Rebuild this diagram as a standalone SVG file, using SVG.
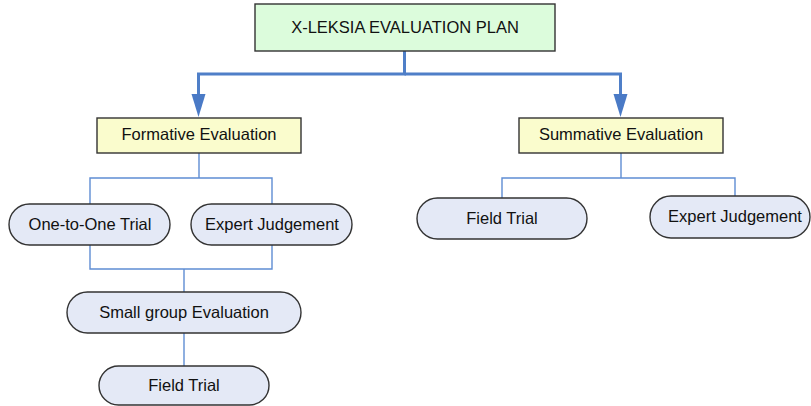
<svg xmlns="http://www.w3.org/2000/svg" width="811" height="406" viewBox="0 0 811 406">
  <defs>
    <style>
      .box { stroke: #333333; stroke-width: 1.4; }
      .root { fill: #dcfcdc; }
      .cat { fill: #fafccd; }
      .pill { fill: #e4e9f6; }
      .t { font-family: "Liberation Sans", Arial, sans-serif; font-size: 16.5px; fill: #111111; text-anchor: middle; }
      .thick { fill: none; stroke: #4f7fc8; stroke-width: 3; }
      .thin { fill: none; stroke: #5f8dd3; stroke-width: 1.4; }
    </style>
  </defs>
  <rect width="811" height="406" fill="#ffffff"/>

  <g id="connectors">
    <path class="thick" d="M404.5,51 V74 H198.5 V94"/>
    <path class="thick" d="M404.5,74 H620.5 V94"/>
    <path d="M191.5,94 H205.5 L198.5,117 Z" fill="#4a7ac6"/>
    <path d="M613.5,94 H627.5 L620.5,117 Z" fill="#4a7ac6"/>
    <path class="thin" d="M199,153 V178 M90,204 V178 H272 V204"/>
    <path class="thin" d="M90,245 V269 H272 V245 M184,269 V292"/>
    <path class="thin" d="M184,333 V366"/>
    <path class="thin" d="M621,153 V178 M502,198 V178 H735 V196"/>
  </g>

  <g id="root">
    <rect class="box root" x="255" y="4" width="300" height="47"/>
    <text class="t" x="405" y="33">X-LEKSIA EVALUATION PLAN</text>
  </g>
  <g id="formative">
    <rect class="box cat" x="97" y="118" width="204" height="35"/>
    <text class="t" x="199" y="140">Formative Evaluation</text>
  </g>
  <g id="summative">
    <rect class="box cat" x="519" y="118" width="204" height="35"/>
    <text class="t" x="621" y="140">Summative Evaluation</text>
  </g>
  <g id="one-to-one">
    <rect class="box pill" x="9" y="204" width="161" height="41" rx="20.5"/>
    <text class="t" x="90" y="230">One-to-One Trial</text>
  </g>
  <g id="expert-left">
    <rect class="box pill" x="191" y="204" width="161" height="41" rx="20.5"/>
    <text class="t" x="272" y="230">Expert Judgement</text>
  </g>
  <g id="small-group">
    <rect class="box pill" x="67" y="292" width="234" height="41" rx="20.5"/>
    <text class="t" x="184" y="318">Small group Evaluation</text>
  </g>
  <g id="field-left">
    <rect class="box pill" x="99" y="366" width="170" height="39" rx="19.5"/>
    <text class="t" x="184" y="391">Field Trial</text>
  </g>
  <g id="field-right">
    <rect class="box pill" x="417" y="198" width="170" height="41" rx="20.5"/>
    <text class="t" x="502" y="224">Field Trial</text>
  </g>
  <g id="expert-right">
    <rect class="box pill" x="650" y="196" width="160" height="42" rx="21"/>
    <text class="t" x="735" y="222">Expert Judgement</text>
  </g>
</svg>
